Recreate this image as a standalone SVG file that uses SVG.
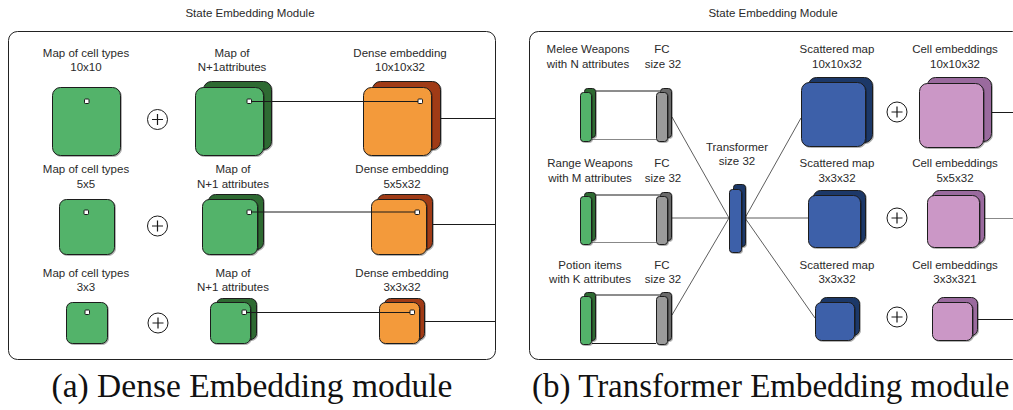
<svg xmlns="http://www.w3.org/2000/svg" width="1013" height="410" viewBox="0 0 1013 410">
  <style>
    .lbl { font-family: "Liberation Sans", Arial, sans-serif; font-size: 11.5px; fill: #2a2a2a; text-anchor: middle; }
    .cap { font-family: "Liberation Serif", "Times New Roman", serif; font-size: 33.5px; fill: #111; }
    .frame { fill: #fff; stroke: #222; stroke-width: 1; }
    .box { stroke: #1a1a1a; stroke-width: 1; filter: url(#sh); }
    .green { fill: #52b36a; }
    .dgreen { fill: #2e6b33; }
    .orange { fill: #f39a3a; }
    .rust { fill: #a03a18; }
    .blue { fill: #3d60a9; }
    .navy { fill: #1c3868; }
    .pink { fill: #cb97c6; }
    .plum { fill: #9a6a9e; }
    .gray { fill: #9a9a9a; }
    .dgray { fill: #6a6a6a; }
    .pt { fill: #fff; stroke: #1a1a1a; stroke-width: 1; }
    .wire { stroke: #1a1a1a; stroke-width: 1; fill: none; }
    .thin { stroke: #333; stroke-width: 0.8; fill: none; }
    .soft { stroke: #888; stroke-width: 1; fill: none; }
    .plus circle { fill: #fff; stroke: #1a1a1a; stroke-width: 1; }
    .plus path { stroke: #1a1a1a; stroke-width: 1.2; fill: none; }
  </style>
  <defs>
    <filter id="sh" x="-20%" y="-20%" width="140%" height="140%">
      <feDropShadow dx="1" dy="1" stdDeviation="0.7" flood-color="#000" flood-opacity="0.3"/>
    </filter>
    <g id="plus" class="plus">
      <circle cx="0" cy="0" r="10"/>
      <path d="M-5.5 0H5.5M0 -5.5V5.5"/>
    </g>
  </defs>

  <rect width="1013" height="410" fill="#fff"/>

  <!-- ===== (a) Dense embedding module ===== -->
  <text class="lbl" x="250" y="17">State Embedding Module</text>
  <rect class="frame" x="8.5" y="31.5" width="487" height="328" rx="9"/>

  <!-- row 1 -->
  <g id="a-cells-10">
    <text class="lbl" x="86" y="57">Map of cell types</text>
    <text class="lbl" x="86" y="71">10x10</text>
    <rect class="box green" x="52.5" y="87.5" width="68" height="68" rx="8"/>
    <rect class="pt" x="84.5" y="99" width="4.5" height="4.5" rx="0.8"/>
  </g>
  <use id="a-plus-1" href="#plus" x="157.5" y="119.5"/>
  <g id="a-attr-10">
    <text class="lbl" x="232" y="57">Map of</text>
    <text class="lbl" x="232" y="71">N+1attributes</text>
    <rect class="box dgreen" x="203.5" y="81.5" width="68" height="68" rx="8"/>
    <rect class="box green" x="195.5" y="87.5" width="68" height="68" rx="8"/>
  </g>
  <g id="a-dense-10">
    <text class="lbl" x="400" y="57">Dense embedding</text>
    <text class="lbl" x="400" y="71">10x10x32</text>
    <rect class="box rust" x="372.5" y="81.5" width="68" height="68" rx="8"/>
    <rect class="box orange" x="363.5" y="87.5" width="68" height="68" rx="8"/>
  </g>

  <!-- row 2 -->
  <g id="a-cells-5">
    <text class="lbl" x="86" y="173">Map of cell types</text>
    <text class="lbl" x="86" y="188">5x5</text>
    <rect class="box green" x="59.5" y="199.5" width="55" height="55" rx="7"/>
    <rect class="pt" x="84" y="210" width="4.5" height="4.5" rx="0.8"/>
  </g>
  <use id="a-plus-2" href="#plus" x="157.5" y="226"/>
  <g id="a-attr-5">
    <text class="lbl" x="233" y="173">Map of</text>
    <text class="lbl" x="233" y="188">N+1 attributes</text>
    <rect class="box dgreen" x="208.5" y="194.5" width="55" height="55" rx="7"/>
    <rect class="box green" x="202.5" y="199.5" width="55" height="55" rx="7"/>
  </g>
  <g id="a-dense-5">
    <text class="lbl" x="402" y="173">Dense embedding</text>
    <text class="lbl" x="402" y="188">5x5x32</text>
    <rect class="box rust" x="377.5" y="194.5" width="55" height="55" rx="7"/>
    <rect class="box orange" x="371.5" y="199.5" width="55" height="55" rx="7"/>
  </g>

  <!-- row 3 -->
  <g id="a-cells-3">
    <text class="lbl" x="86" y="277">Map of cell types</text>
    <text class="lbl" x="86" y="291">3x3</text>
    <rect class="box green" x="66.5" y="302.5" width="41" height="41" rx="6"/>
    <rect class="pt" x="85" y="310" width="4.5" height="4.5" rx="0.8"/>
  </g>
  <use id="a-plus-3" href="#plus" x="158" y="323"/>
  <g id="a-attr-3">
    <text class="lbl" x="233" y="277">Map of</text>
    <text class="lbl" x="233" y="291">N+1 attributes</text>
    <rect class="box dgreen" x="216.5" y="298.5" width="40" height="41" rx="6"/>
    <rect class="box green" x="210.5" y="302.5" width="40" height="41" rx="6"/>
  </g>
  <g id="a-dense-3">
    <text class="lbl" x="402" y="277">Dense embedding</text>
    <text class="lbl" x="402" y="291">3x3x32</text>
    <rect class="box rust" x="384.5" y="298.5" width="40" height="41" rx="6"/>
    <rect class="box orange" x="379.5" y="302.5" width="40" height="41" rx="6"/>
  </g>

  <!-- links between attribute maps and dense embeddings, drawn over the boxes -->
  <g id="a-connectors">
    <path class="wire" d="M249 101.5H420M440 118.5H495"/>
    <path class="wire" d="M249 212H417M433 224.5H495"/>
    <path class="wire" d="M244 312.5H412M424 321.5H495"/>
    <rect class="pt" x="247" y="99" width="4.5" height="4.5" rx="0.8"/>
    <rect class="pt" x="418" y="99" width="4.5" height="4.5" rx="0.8"/>
    <rect class="pt" x="247" y="210" width="4.5" height="4.5" rx="0.8"/>
    <rect class="pt" x="415" y="210" width="4.5" height="4.5" rx="0.8"/>
    <rect class="pt" x="242" y="310" width="4.5" height="4.5" rx="0.8"/>
    <rect class="pt" x="410" y="310" width="4.5" height="4.5" rx="0.8"/>
  </g>

  <text class="cap" x="252" y="397" text-anchor="middle">(a) Dense Embedding module</text>

  <!-- ===== (b) Transformer embedding module ===== -->
  <text class="lbl" x="773" y="17">State Embedding Module</text>
  <rect class="frame" x="529.5" y="31.5" width="492" height="328" rx="9"/>

  <g id="b-connectors">
    <!-- item vectors to FC layers -->
    <path class="wire" d="M596 91H660"/>
    <path class="soft" d="M592 139.5H656"/>
    <path class="wire" d="M596 195H660"/>
    <path class="soft" d="M592 242.5H656"/>
    <path class="wire" d="M596 295H660"/>
    <path class="wire" d="M592 343.5H656"/>
    <!-- FC layers to transformer -->
    <path class="thin" d="M672 117L729 218M672 218H729M672 315L729 218"/>
    <!-- transformer to scattered maps -->
    <path class="thin" d="M745 218L801 118M745 218H808M745 218L815 318"/>
    <!-- cell embeddings to the next stage -->
    <path class="wire" d="M992 112.5H1013"/>
    <path class="soft" d="M984 218.5H1013" stroke="#aaa"/>
    <path class="wire" d="M977 319.5H1013"/>
  </g>

  <!-- item inputs -->
  <g id="b-melee">
    <text class="lbl" x="588" y="53">Melee Weapons</text>
    <text class="lbl" x="588" y="68">with N attributes</text>
    <rect class="box dgreen" x="584.5" y="88.5" width="11" height="49" rx="3"/>
    <rect class="box green" x="580.5" y="92.5" width="11" height="49" rx="3"/>
  </g>
  <g id="b-melee-fc">
    <text class="lbl" x="662" y="53">FC</text>
    <text class="lbl" x="663" y="68">size 32</text>
    <rect class="box dgray" x="660.5" y="88.5" width="11" height="49" rx="3"/>
    <rect class="box gray" x="656.5" y="92.5" width="11" height="49" rx="3"/>
  </g>

  <g id="b-range">
    <text class="lbl" x="590" y="167">Range Weapons</text>
    <text class="lbl" x="590" y="182">with M attributes</text>
    <rect class="box dgreen" x="584.5" y="192.5" width="11" height="48" rx="3"/>
    <rect class="box green" x="580.5" y="196.5" width="11" height="48" rx="3"/>
  </g>
  <g id="b-range-fc">
    <text class="lbl" x="662" y="167">FC</text>
    <text class="lbl" x="663" y="182">size 32</text>
    <rect class="box dgray" x="660.5" y="192.5" width="11" height="48" rx="3"/>
    <rect class="box gray" x="656.5" y="196.5" width="11" height="48" rx="3"/>
  </g>

  <g id="b-potion">
    <text class="lbl" x="590" y="269">Potion items</text>
    <text class="lbl" x="590" y="283">with K attributes</text>
    <rect class="box dgreen" x="584.5" y="292.5" width="11" height="48" rx="3"/>
    <rect class="box green" x="580.5" y="296.5" width="11" height="48" rx="3"/>
  </g>
  <g id="b-potion-fc">
    <text class="lbl" x="662" y="269">FC</text>
    <text class="lbl" x="663" y="283">size 32</text>
    <rect class="box dgray" x="660.5" y="292.5" width="11" height="48" rx="3"/>
    <rect class="box gray" x="656.5" y="296.5" width="11" height="48" rx="3"/>
  </g>

  <g id="b-transformer">
    <text class="lbl" x="737" y="150.5">Transformer</text>
    <text class="lbl" x="737" y="165">size 32</text>
    <rect class="box navy" x="733.5" y="184.5" width="12" height="62" rx="3"/>
    <rect class="box blue" x="729.5" y="189.5" width="12" height="63" rx="3"/>
  </g>

  <!-- scattered maps and cell embeddings -->
  <g id="b-scatter-10">
    <text class="lbl" x="837" y="53">Scattered map</text>
    <text class="lbl" x="837" y="68">10x10x32</text>
    <rect class="box navy" x="808.5" y="77.5" width="64" height="65" rx="8"/>
    <rect class="box blue" x="801.5" y="82.5" width="64" height="64" rx="8"/>
  </g>
  <use id="b-plus-1" href="#plus" x="897" y="112"/>
  <g id="b-cell-10">
    <text class="lbl" x="955" y="53">Cell embeddings</text>
    <text class="lbl" x="955" y="68">10x10x32</text>
    <rect class="box plum" x="927.5" y="77.5" width="64" height="64" rx="8"/>
    <rect class="box pink" x="919.5" y="83.5" width="64" height="64" rx="8"/>
  </g>

  <g id="b-scatter-5">
    <text class="lbl" x="837" y="167">Scattered map</text>
    <text class="lbl" x="837" y="182">3x3x32</text>
    <rect class="box navy" x="813.5" y="190.5" width="52" height="53" rx="7"/>
    <rect class="box blue" x="808.5" y="195.5" width="52" height="52" rx="7"/>
  </g>
  <use id="b-plus-2" href="#plus" x="897" y="218"/>
  <g id="b-cell-5">
    <text class="lbl" x="955" y="167">Cell embeddings</text>
    <text class="lbl" x="955" y="182">5x5x32</text>
    <rect class="box plum" x="932.5" y="190.5" width="52" height="53" rx="7"/>
    <rect class="box pink" x="927.5" y="195.5" width="52" height="52" rx="7"/>
  </g>

  <g id="b-scatter-3">
    <text class="lbl" x="837" y="269">Scattered map</text>
    <text class="lbl" x="837" y="283">3x3x32</text>
    <rect class="box navy" x="820.5" y="297.5" width="39" height="38" rx="6"/>
    <rect class="box blue" x="815.5" y="302.5" width="39" height="38" rx="6"/>
  </g>
  <use id="b-plus-3" href="#plus" x="897" y="317"/>
  <g id="b-cell-3">
    <text class="lbl" x="955" y="269">Cell embeddings</text>
    <text class="lbl" x="955" y="283">3x3x321</text>
    <rect class="box plum" x="937.5" y="297.5" width="40" height="38" rx="6"/>
    <rect class="box pink" x="932.5" y="302.5" width="40" height="38" rx="6"/>
  </g>

  <text class="cap" x="532" y="397" style="font-size:33px">(b) Transformer Embedding module</text>
</svg>
